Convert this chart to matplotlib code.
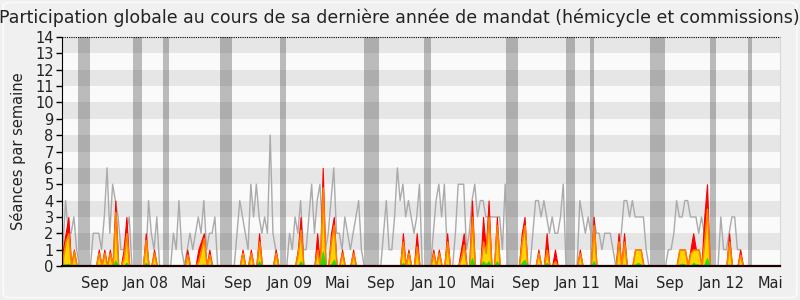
import matplotlib
matplotlib.use("Agg")
import matplotlib.pyplot as plt
import numpy as np
from matplotlib.patches import FancyBboxPatch

title = "Participation globale au cours de sa dernière année de mandat (hémicycle et commissions)"
ylabel = "Séances par semaine"

n_weeks = 260
# median presence (grey line), one value per week
median_line = [
    1, 4, 2, 2, 3, 1, 0, 0, 0, 0, 0, 2, 2, 2, 1, 3, 6, 2, 5, 4,
    3, 1, 1, 2, 3, 0, 0, 0, 0, 0, 0, 4, 2, 1, 3, 0, 0, 0, 0, 0,
    2, 1, 4, 1, 0, 1, 2, 1, 2, 3, 2, 4, 1, 2, 2, 3, 0, 0, 0, 0,
    0, 0, 0, 2, 4, 3, 2, 1, 5, 3, 5, 3, 2, 3, 2, 8, 2, 1, 0, 0,
    0, 0, 2, 1, 3, 2, 4, 1, 1, 3, 5, 2, 4, 5, 2, 1, 2, 4, 6, 2,
    2, 1, 3, 2, 1, 2, 3, 4, 1, 0, 0, 0, 0, 0, 0, 0, 2, 4, 1, 1,
    3, 6, 4, 5, 3, 4, 3, 2, 3, 5, 0, 0, 0, 0, 2, 4, 5, 3, 5, 1,
    0, 0, 2, 5, 5, 5, 1, 2, 4, 5, 3, 4, 4, 3, 3, 3, 3, 3, 3, 1,
    5, 0, 0, 0, 0, 0, 0, 0, 0, 0, 2, 4, 4, 3, 4, 3, 2, 3, 2, 2,
    3, 5, 0, 0, 0, 0, 0, 4, 3, 2, 3, 2, 3, 2, 2, 1, 2, 2, 2, 1,
    0, 1, 2, 4, 4, 3, 4, 3, 3, 3, 3, 1, 0, 0, 0, 0, 0, 0, 0, 1,
    1, 2, 4, 3, 3, 4, 4, 3, 3, 3, 2, 3, 2, 0, 0, 0, 0, 0, 3, 1,
    1, 2, 3, 3, 1, 1, 0, 0, 0, 0, 0, 0, 0, 0, 0, 0, 0, 0, 0, 0,
]

# deputy activity weeks (sparse): total, hemicycle part, interventions
act_weeks = [0, 1, 2, 4, 13, 15, 17, 19, 22, 23, 30, 33, 45, 49, 50, 51, 53,
             65, 68, 71, 77, 85, 86, 92, 94, 97, 98, 101, 105, 123, 125, 128,
             134, 136, 139, 144, 145, 148, 152, 153, 154, 157, 166, 167, 172,
             175, 178, 187, 192, 201, 203, 207, 208, 209, 223, 224, 225, 227,
             228, 229, 230, 232, 233, 241, 245]
act_total = [1, 2, 3, 1, 1, 1, 1, 4, 1, 3, 2, 1, 1, 1, 1.5, 2, 1,
             1, 1, 2, 1, 1, 3, 2, 6, 2, 3, 1, 1, 2, 1, 2,
             1, 1, 2, 1, 2, 4, 3, 1, 4, 3, 2, 3, 1,
             2, 1, 1, 3, 2, 2, 1, 1, 1, 1, 1, 1, 1,
             2, 1, 1, 3, 5, 2, 1]
act_mid = [0.5, 1.5, 2, 0.9, 0.8, 0.8, 0.8, 3.3, 0.5, 2, 1.6, 0.8, 0.7, 0.3, 1, 1.7, 0.7,
           0.8, 0.8, 1.5, 0.8, 0.8, 2.2, 1, 4.8, 1.5, 2.5, 0.8, 0.8, 1.5, 0.8, 1.2,
           0.8, 0.8, 1.5, 0.5, 1.3, 3, 1.5, 0.8, 3, 2.5, 1.5, 2.5, 0.8,
           1, 0.3, 0.8, 2.5, 1.5, 1.5, 1, 1, 1, 1, 1, 1, 0.8,
           1, 1, 1, 1.5, 3.5, 1.5, 0.7]
act_low = [0.1, 0.1, 0.15, 0.1, 0.1, 0.1, 0.1, 0.35, 0, 0.2, 0.2, 0.1, 0.05, 0, 0.05, 0.1, 0.1,
           0.1, 0.1, 0.3, 0.1, 0, 0.3, 0.1, 0.9, 0.1, 0.4, 0.1, 0.1, 0.2, 0.1, 0.05,
           0.05, 0.05, 0.1, 0, 0.1, 0.5, 0.3, 0.1, 0.3, 0.3, 0.2, 0.4, 0.1,
           0.2, 0, 0.1, 0.3, 0.1, 0.1, 0.1, 0.2, 0.1, 0.1, 0.15, 0.1, 0,
           0.2, 0.1, 0.1, 0.1, 0.5, 0.1, 0.05]

# parliamentary holidays (week ranges)
vac_start = [5.5, 25.4, 36.2, 56.9, 78.6, 108.9, 130.6, 160.3, 182.0, 190.7, 212.4, 234.1, 247.8]
vac_end = [9.8, 28.6, 38.4, 61.2, 80.7, 114.4, 133.1, 164.6, 185.3, 192.1, 217.8, 236.2, 249.3]

tick_weeks = [11.65, 30.1, 47.4, 63.4, 82.2, 99.5, 115.1, 134.3, 151.6, 167.5,
              186.3, 203.7, 219.6, 238.4, 255.8]
tick_labels = ["Sep", "Jan 08", "Mai", "Sep", "Jan 09", "Mai", "Sep", "Jan 10",
               "Mai", "Sep", "Jan 11", "Mai", "Sep", "Jan 12", "Mai"]

weeks = np.arange(n_weeks)
total = np.zeros(n_weeks)
mid = np.zeros(n_weeks)
low = np.zeros(n_weeks)
total[act_weeks] = act_total
mid[act_weeks] = act_mid
low[act_weeks] = act_low

plt.rcParams['font.family'] = ['DejaVu Sans']

fig = plt.figure(figsize=(8, 3), dpi=100, facecolor='#f0f0f0')
fig.patches.append(FancyBboxPatch((0.004, 0.008), 0.992, 0.984,
                                  boxstyle='round,pad=0,rounding_size=0.012',
                                  transform=fig.transFigure, fc='none',
                                  ec='#fbfbfb', lw=1.2))
ax = fig.add_axes([62 / 800, 34 / 300, 718 / 800, 229 / 300])
ax.set_facecolor('#fafafa')
ax.set_xlim(-0.3, 259.4)
ax.set_ylim(0, 14)

for k in range(14):
    ax.axhspan(k, k + 1, color='#e6e6e6' if k % 2 == 1 else '#fafafa', lw=0, zorder=0)

for s, e in zip(vac_start, vac_end):
    ax.axvspan(s, e, color='#2b2b2b', alpha=0.3, lw=0, zorder=1)

ax.plot(weeks, median_line, color='#aaaaaa', lw=1, zorder=2)
ax.fill_between(weeks, 0, total, facecolor='#ff0000', edgecolor='#ff0000', lw=0.8, zorder=3)
ax.fill_between(weeks, 0, mid, facecolor='#ffd500', edgecolor='#ff8000', lw=1.2, zorder=4)
ax.fill_between(weeks, 0, low, facecolor='#22e000', edgecolor='#22e000', lw=0.6, zorder=5)

ax.axhline(14, color='black', ls=(0, (1, 1)), lw=0.8, zorder=6, clip_on=False)

ax.spines['top'].set_visible(False)
ax.spines['right'].set_color('#d8d8d8')
ax.spines['left'].set_color('black')
ax.spines['bottom'].set_color('#1a0000')
ax.spines['bottom'].set_linewidth(1.6)
ax.spines['bottom'].set_zorder(7)
ax.spines['left'].set_zorder(7)

ax.set_yticks(range(15))
ax.set_yticklabels([str(i) for i in range(15)], fontsize=10.5)
ax.tick_params(axis='y', direction='out', length=4, width=1, pad=2, colors='black',
               labelcolor='#222222')
ax.set_xticks(tick_weeks)
ax.set_xticklabels(tick_labels, fontsize=10.5, color='#222222')
ax.tick_params(axis='x', length=0, pad=7)

fig.text(0.499, 0.94, title, ha='center', va='center', fontsize=12.5, color='#222222')
fig.text(18 / 800, 0.497, ylabel, rotation=90, ha='center', va='center',
         fontsize=10.5, color='#222222')

fig.savefig('out.png', dpi=100, facecolor=fig.get_facecolor())
